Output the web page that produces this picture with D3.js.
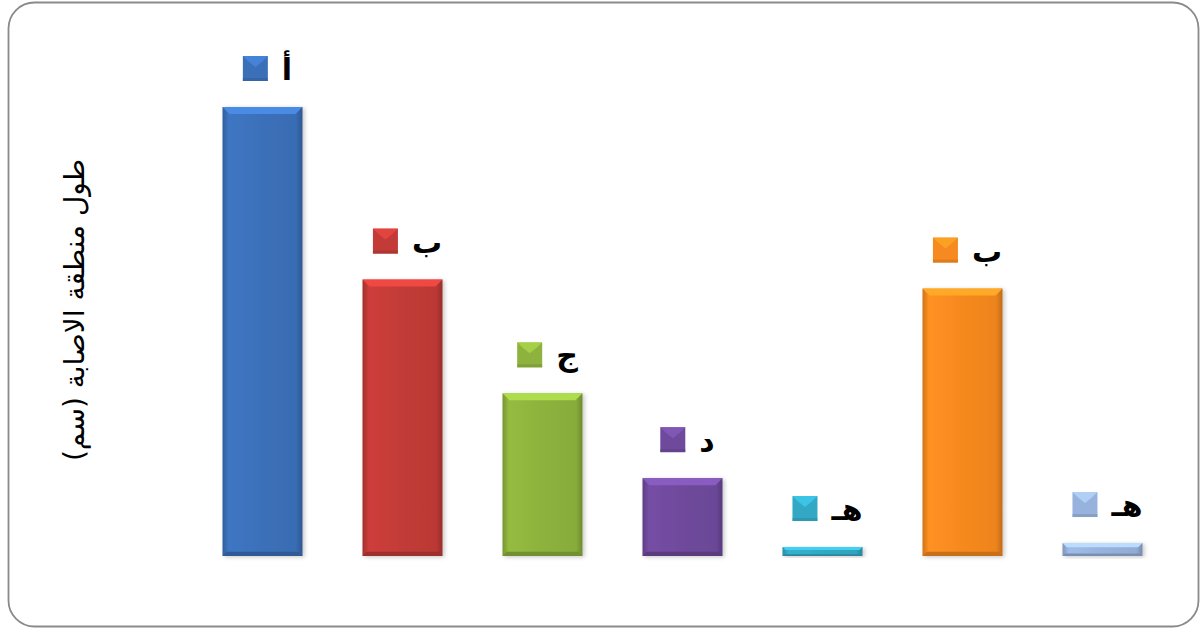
<!DOCTYPE html>
<html>
<head>
<meta charset="utf-8">
<script src="https://cdn.jsdelivr.net/npm/d3@7"></script>
<style>
  body { margin: 0; background: #fff; }
  svg { display: block; }
</style>
</head>
<body>
<svg id="chart" width="1200" height="628"></svg>
<script>
'use strict';

// treatments, left to right
const treatments = ['t1', 't2', 't3', 't4', 't5', 't6', 't7'];
// lesion length (cm)
const lesionLength = [4.5, 2.77, 1.63, 0.78, 0.09, 2.68, 0.13];
// significance letters above each bar
const groupLetters = ['أ', 'ب', 'ج', 'د', 'هـ', 'ب', 'هـ'];
const barColors = ['#3b70b9', '#c23b37', '#8db23d', '#6f4a9c', '#33a8c4', '#f6891f', '#97b2dc'];
const yTitle = 'طول منطقة الاصابة (سم)';

const svg = d3.select('#chart');
const defs = svg.append('defs');

// frame
svg.append('rect')
  .attr('x', 8.5).attr('y', 2.5)
  .attr('width', 1190).attr('height', 624)
  .attr('rx', 26).attr('ry', 26)
  .attr('fill', '#fff')
  .attr('stroke', '#8a8a8a')
  .attr('stroke-width', 1.8);

const x = d3.scaleBand()
  .domain(treatments)
  .range([192.5, 1172.5])
  .paddingInner(60 / 140)
  .paddingOuter(30 / 140);

const y = d3.scaleLinear()
  .domain([0, 4.5])
  .range([556, 107]);

const data = treatments.map((t, i) => ({
  t, v: lesionLength[i], letter: groupLetters[i], color: barColors[i], i,
}));

// gradients per bar colour
data.forEach(d => {
  const c = d3.color(d.color);
  const g = defs.append('linearGradient')
    .attr('id', `side${d.i}`)
    .attr('x1', 0).attr('x2', 1).attr('y1', 0).attr('y2', 0);
  [
    [0, c.darker(0.5)],
    [0.08, c.brighter(0.15)],
    [0.5, c],
    [0.92, c.darker(0.1)],
    [1, c.darker(0.7)],
  ].forEach(s => g.append('stop').attr('offset', s[0]).attr('stop-color', s[1]));
});

const shadow = defs.append('filter').attr('id', 'shadow')
  .attr('x', '-10%').attr('y', '-10%').attr('width', '130%').attr('height', '130%');
shadow.append('feDropShadow')
  .attr('dx', 2).attr('dy', 1).attr('stdDeviation', 2)
  .attr('flood-color', '#000').attr('flood-opacity', 0.22);

const bars = svg.append('g').attr('class', 'bars')
  .selectAll('g')
  .data(data)
  .enter()
  .append('g');

bars.append('rect')
  .attr('x', d => x(d.t))
  .attr('y', d => y(d.v))
  .attr('width', x.bandwidth())
  .attr('height', d => y(0) - y(d.v))
  .attr('fill', d => `url(#side${d.i})`)
  .attr('filter', 'url(#shadow)');

// bevel: light top edge, dark bottom edge
const bevel = d => Math.min(7, (y(0) - y(d.v)) / 3);

bars.append('path')
  .attr('d', d => {
    const x0 = x(d.t), x1 = x0 + x.bandwidth(), t = y(d.v), b = bevel(d);
    return `M${x0},${t}L${x1},${t}L${x1 - b},${t + b}L${x0 + b},${t + b}Z`;
  })
  .attr('fill', d => d3.color(d.color).brighter(0.6));

bars.append('path')
  .attr('d', d => {
    const x0 = x(d.t), x1 = x0 + x.bandwidth(), bt = y(0), b = bevel(d) * 0.6;
    return `M${x0},${bt}L${x1},${bt}L${x1 - b},${bt - b}L${x0 + b},${bt - b}Z`;
  })
  .attr('fill', d => d3.color(d.color).darker(0.6));

// letter labels with a small square marker
const labels = svg.append('g').attr('class', 'labels')
  .selectAll('g')
  .data(data)
  .enter()
  .append('g');

const txt = labels.append('text')
  .attr('y', d => y(d.v) - 27)
  .attr('font-family', '"DejaVu Sans", sans-serif')
  .attr('font-weight', 'bold')
  .attr('font-size', 30)
  .attr('fill', '#000')
  .attr('text-anchor', 'start')
  .text(d => d.letter);

const sq = 25, gap = 14;
txt.each(function (d) {
  const tw = this.getComputedTextLength();
  const total = sq + gap + tw;
  d.lx = x(d.t) + x.bandwidth() / 2 + 5 - total / 2;
  d3.select(this).attr('x', d.lx + sq + gap);
});

labels.append('rect')
  .attr('x', d => d.lx)
  .attr('y', d => y(d.v) - 51)
  .attr('width', sq)
  .attr('height', sq)
  .attr('fill', d => d.color);

labels.append('path')
  .attr('d', d => {
    const x0 = d.lx, t = y(d.v) - 51;
    return `M${x0},${t}L${x0 + sq},${t}L${x0 + sq - 5},${t + 5}L${x0 + sq / 2},${t + 11}L${x0 + 5},${t + 5}Z`;
  })
  .attr('fill', d => d3.color(d.color).brighter(0.6))
  .attr('opacity', 0.7);

labels.append('rect')
  .attr('x', d => d.lx)
  .attr('y', d => y(d.v) - 51 + sq - 3)
  .attr('width', sq)
  .attr('height', 3)
  .attr('fill', d => d3.color(d.color).darker(0.5))
  .attr('opacity', 0.6);

// y axis title
svg.append('text')
  .attr('transform', 'translate(84,310) rotate(-90)')
  .attr('text-anchor', 'middle')
  .attr('font-family', '"DejaVu Sans", sans-serif')
  .attr('font-size', 28)
  .attr('fill', '#000')
  .text(yTitle);
</script>
</body>
</html>
